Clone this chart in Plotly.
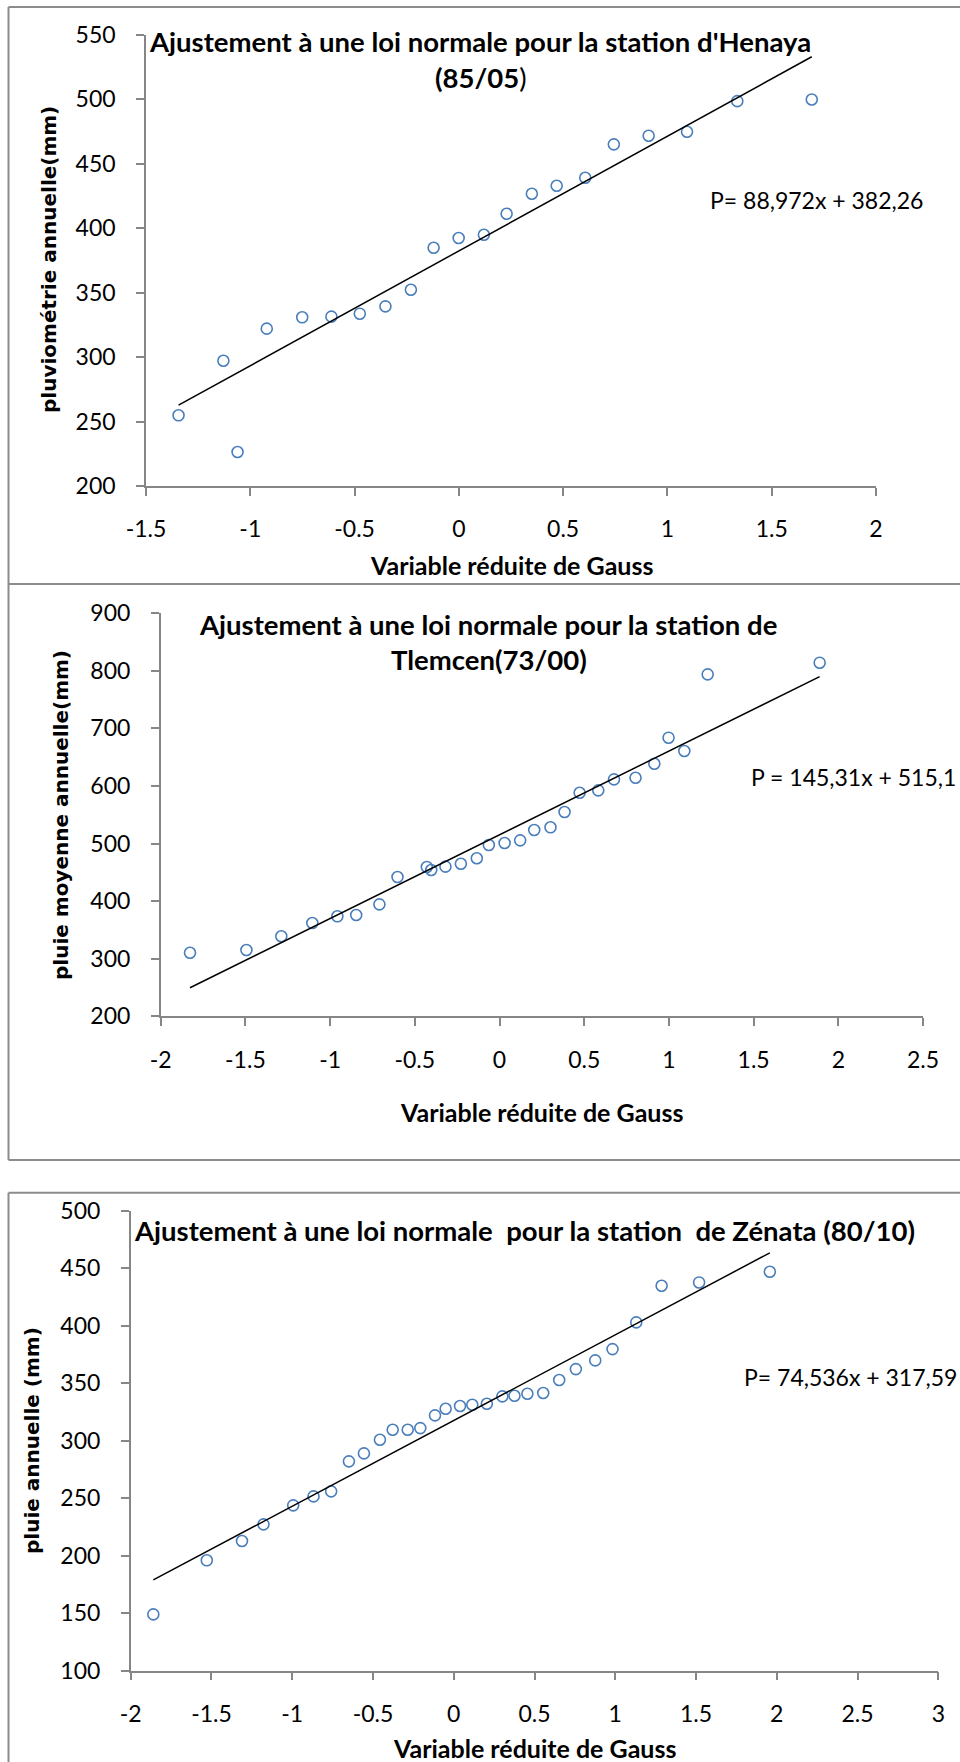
import plotly.graph_objects as go

# ---------------- data ----------------
henaya_x = [-1.344, -1.129, -1.061, -0.921, -0.751, -0.611, -0.475, -0.352, -0.230, -0.121,
            -0.001, 0.120, 0.229, 0.350, 0.469, 0.606, 0.743, 0.910, 1.094, 1.335, 1.692]
henaya_y = [254.8, 297.1, 226.4, 322.0, 330.8, 331.3, 333.6, 339.3, 352.2, 384.7,
            392.3, 394.8, 411.1, 426.6, 432.8, 439.0, 464.9, 471.6, 474.7, 498.4, 499.7]
henaya_fit = (88.972, 382.26)

tlemcen_x = [-1.827, -1.494, -1.288, -1.105, -0.957, -0.846, -0.709, -0.602, -0.429, -0.403,
             -0.319, -0.228, -0.134, -0.063, 0.030, 0.122, 0.205, 0.301, 0.384, 0.473,
             0.583, 0.676, 0.803, 0.914, 0.998, 1.091, 1.229, 1.890]
tlemcen_y = [310.4, 315.1, 338.9, 362.0, 373.6, 375.9, 394.4, 441.8, 459.2, 454.0,
             459.8, 464.9, 474.3, 497.4, 500.8, 505.5, 523.4, 528.1, 554.7, 588.2,
             592.3, 611.4, 614.2, 638.5, 683.7, 660.6, 793.7, 813.9]
tlemcen_fit = (145.31, 515.1)

zenata_x = [-1.860, -1.529, -1.311, -1.178, -0.994, -0.868, -0.759, -0.649, -0.556, -0.457,
            -0.378, -0.285, -0.207, -0.116, -0.050, 0.039, 0.115, 0.205, 0.301, 0.376,
            0.456, 0.554, 0.653, 0.756, 0.876, 0.983, 1.130, 1.287, 1.519, 1.957]
zenata_y = [149.0, 196.0, 212.8, 227.3, 243.8, 251.6, 256.0, 282.1, 289.0, 300.9,
            309.6, 309.6, 311.0, 322.1, 327.8, 330.2, 331.3, 332.2, 338.6, 339.1,
            340.9, 341.5, 352.8, 362.3, 369.9, 379.7, 403.0, 434.8, 437.7, 447.0]
zenata_fit = (74.536, 317.59)

x1_ticks = [-1.5, -1, -0.5, 0, 0.5, 1, 1.5, 2]
x1_labels = ["-1.5", "-1", "-0.5", "0", "0.5", "1", "1.5", "2"]
y1_ticks = [200, 250, 300, 350, 400, 450, 500, 550]

x2_ticks = [-2, -1.5, -1, -0.5, 0, 0.5, 1, 1.5, 2, 2.5]
x2_labels = ["-2", "-1.5", "-1", "-0.5", "0", "0.5", "1", "1.5", "2", "2.5"]
y2_ticks = [200, 300, 400, 500, 600, 700, 800, 900]

x3_ticks = [-2, -1.5, -1, -0.5, 0, 0.5, 1, 1.5, 2, 2.5, 3]
x3_labels = ["-2", "-1.5", "-1", "-0.5", "0", "0.5", "1", "1.5", "2", "2.5", "3"]
y3_ticks = [100, 150, 200, 250, 300, 350, 400, 450, 500]

# ---------------- layout helpers ----------------
W, H = 960, 1762
def px(x):
    return x / W
def py(y):
    return 1 - y / H

BLUE = "#4a7ebb"
GRAY = "#868686"
TICKFONT = dict(family="Lato", size=23, color="#000000")

fig = go.Figure()

panels = [
    (henaya_x, henaya_y, henaya_fit, "x", "y"),
    (tlemcen_x, tlemcen_y, tlemcen_fit, "x2", "y2"),
    (zenata_x, zenata_y, zenata_fit, "x3", "y3"),
]
for xs, ys, (a, b), xa, ya in panels:
    fig.add_trace(go.Scatter(x=xs, y=ys, mode="markers", xaxis=xa, yaxis=ya,
                             marker=dict(symbol="circle-open", size=11, color=BLUE,
                                         line=dict(width=1.6, color=BLUE)),
                             showlegend=False, hoverinfo="x+y"))
    x0, x1 = min(xs), max(xs)
    fig.add_trace(go.Scatter(x=[x0, x1], y=[a * x0 + b, a * x1 + b], mode="lines",
                             xaxis=xa, yaxis=ya, line=dict(color="black", width=1.5),
                             showlegend=False, hoverinfo="skip"))

def xaxis(dom, rng, ticks, labels, anchor):
    return dict(domain=[px(dom[0]), px(dom[1])], range=rng, anchor=anchor,
                tickmode="array", tickvals=ticks, ticktext=labels, automargin=False,
                showgrid=False, zeroline=False, showline=True, linecolor=GRAY, linewidth=1.5,
                ticks="outside", ticklen=8, tickcolor=GRAY, tickwidth=1.5,
                tickfont=TICKFONT, ticklabelstandoff=14, fixedrange=True)

def yaxis(dom, rng, ticks, anchor):
    return dict(domain=[py(dom[1]), py(dom[0])], range=rng, anchor=anchor,
                tickmode="array", tickvals=ticks, ticktext=[str(t) for t in ticks],
                automargin=False,
                showgrid=False, zeroline=False, showline=True, linecolor=GRAY, linewidth=1.5,
                ticks="outside", ticklen=8, tickcolor=GRAY, tickwidth=1.5,
                tickfont=TICKFONT, ticklabelstandoff=16, fixedrange=True)

fig.update_layout(
    width=W, height=H, margin=dict(l=0, r=0, t=0, b=0, pad=0, autoexpand=False),
    paper_bgcolor="white", plot_bgcolor="white",
    xaxis=xaxis((146, 876), [-1.5, 2], x1_ticks, x1_labels, "y"),
    yaxis=yaxis((34.6, 486), [200, 550], y1_ticks, "x"),
    xaxis2=xaxis((160.7, 923), [-2, 2.5], x2_ticks, x2_labels, "y2"),
    yaxis2=yaxis((613.1, 1016.3), [200, 900], y2_ticks, "x2"),
    xaxis3=xaxis((130.7, 938.3), [-2, 3], x3_ticks, x3_labels, "y3"),
    yaxis3=yaxis((1210.8, 1670.7), [100, 500], y3_ticks, "x3"),
)

# frames around each chart
FR = dict(color="#8c8c8c", width=2)
def hline(x0, x1, y):
    fig.add_shape(type="line", xref="paper", yref="paper", x0=px(x0), x1=px(x1),
                  y0=py(y), y1=py(y), line=FR)
def vline(x, y0, y1):
    fig.add_shape(type="line", xref="paper", yref="paper", x0=px(x), x1=px(x),
                  y0=py(y0), y1=py(y1), line=FR)

hline(8.5, 960, 7)
hline(8.5, 960, 584)
vline(8.5, 7, 1160)
hline(8.5, 960, 1160)
hline(8.5, 960, 1192.7)
vline(8.5, 1192.7, 1762)

def text(x, y, s, size, family="Lato", xanchor="center", textangle=0):
    fig.add_annotation(xref="paper", yref="paper", x=px(x), y=py(y), text=s,
                       showarrow=False, xanchor=xanchor, yanchor="middle",
                       textangle=textangle, borderpad=0,
                       font=dict(family=family, size=size, color="black"))

TITLE_SIZE = 27.5
EQ_SIZE = 23
XT_SIZE = 25
YT_SIZE = 20
# panel 1
text(480, 41, "<b>Ajustement à une loi normale pour la station d'Henaya</b>", TITLE_SIZE)
text(481, 78, "<b>(85/05</b>)", TITLE_SIZE)
text(709, 200, "P= 88,972x + 382,26", EQ_SIZE, xanchor="left")
text(511, 565, "<b>Variable réduite de Gauss</b>", XT_SIZE)
text(49, 260, "<b>pluviométrie annuelle(mm)</b>", YT_SIZE, family="DejaVu Sans", textangle=-90)

# panel 2
text(488, 624, "<b>Ajustement à une loi normale pour la station de</b>", TITLE_SIZE)
text(489, 659, "<b>Tlemcen(73/00)</b>", TITLE_SIZE)
text(750, 777, "P = 145,31x + 515,1", EQ_SIZE, xanchor="left")
text(541, 1112, "<b>Variable réduite de Gauss</b>", XT_SIZE)
text(61, 815, "<b>pluie moyenne annuelle(mm)</b>", YT_SIZE, family="DejaVu Sans", textangle=-90)

# panel 3
text(524, 1230, "<b>Ajustement à une loi normale&nbsp; pour la station&nbsp; de Zénata (80/10)</b>", TITLE_SIZE)
text(743, 1377, "P= 74,536x + 317,59", EQ_SIZE, xanchor="left")
text(534, 1748, "<b>Variable réduite de Gauss</b>", XT_SIZE)
text(32, 1441, "<b>pluie annuelle (mm)</b>", YT_SIZE, family="DejaVu Sans", textangle=-90)

fig.write_html("out.html", config={"displayModeBar": False},
               post_script="document.body.style.margin='0px';document.body.style.padding='0px';")
